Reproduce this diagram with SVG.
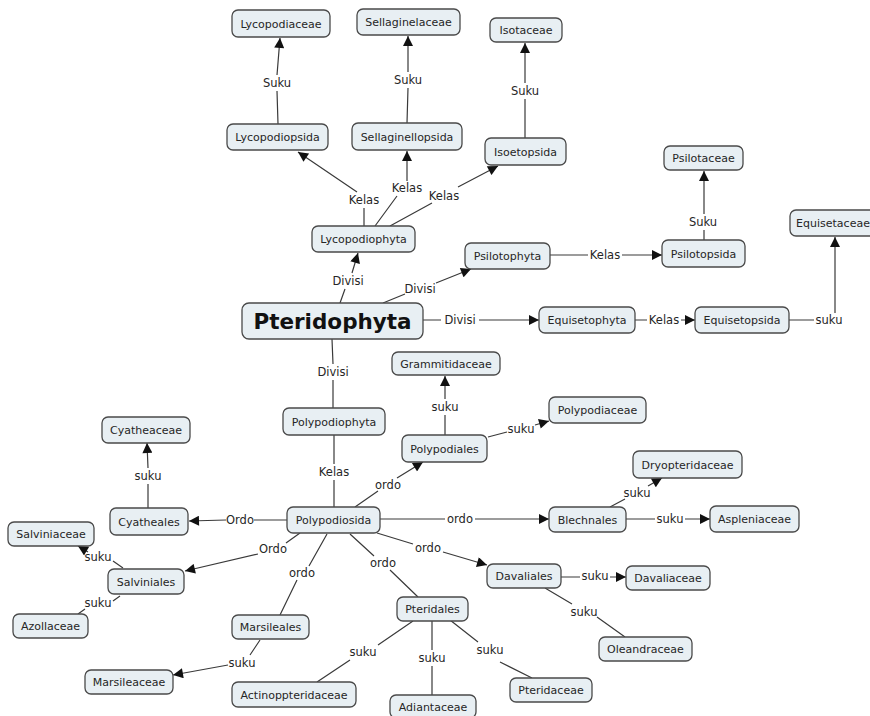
<svg xmlns="http://www.w3.org/2000/svg" width="870" height="716" viewBox="0 0 870 716">
<style>
.n rect{fill:#e8eff3;stroke:#4a4a4a;stroke-width:1.3}
.n text{font-family:"DejaVu Sans",Verdana,sans-serif;font-size:11px;fill:#262626;text-anchor:middle}
#Pteridophyta text{font-size:21.5px;font-weight:bold;fill:#111}
#connectors path{fill:none;stroke:#3a3a3a;stroke-width:1.2}
#connectors path.a{marker-end:url(#ar)}
#connectors text{font-family:"DejaVu Sans",Verdana,sans-serif;font-size:11.5px;fill:#262626;text-anchor:middle}
</style>
<defs>
<marker id="ar" viewBox="0 0 10 10" refX="10" refY="5" markerWidth="12" markerHeight="10" orient="auto" markerUnits="userSpaceOnUse"><path d="M0,0 L10,5 L0,10 z" fill="#111"/></marker>
</defs>
<rect width="870" height="716" fill="#fff"/>
<g id="connectors">
<path class="a" d="M364,226 L364,208 M357,192 L298,152"/>
<path class="a" d="M375,226 L397,196 M407,181 L407,151"/>
<path class="a" d="M390,226 L432,203 M458,187 L498,166"/>
<path class="a" d="M278,124 L277,91 M277,75 L280,38"/>
<path class="a" d="M407,123 L408,88 M408,72 L408,36"/>
<path class="a" d="M525,138 L525,99 M525,83 L525,43"/>
<path class="a" d="M340,303 L345,289 M352,273 L358,253"/>
<path class="a" d="M383,303 L405,294 M436,283 L471,269"/>
<path class="a" d="M423,320 L441,320 M479,320 L539,320"/>
<path class="a" d="M635,320 L647,320 M681,320 L695,320"/>
<path class="a" d="M789,320 L814,320 M835,313 L835,237"/>
<path class="a" d="M550,255 L588,255 M622,255 L662,255"/>
<path class="a" d="M704,240 L704,230 M704,214 L704,171"/>
<path d="M332,339 L333,364 M333,380 L333,408"/>
<path d="M334,435 L334,464 M334,480 L334,507"/>
<path class="a" d="M355,507 L378,491 M397,478 L423,462"/>
<path class="a" d="M445,435 L445,415 M445,399 L445,376"/>
<path class="a" d="M488,437 L507,432 M535,425 L549,421"/>
<path class="a" d="M380,519 L445,519 M475,519 L549,519"/>
<path class="a" d="M610,507 L625,499 M648,486 L662,478"/>
<path class="a" d="M626,519 L655,519 M685,519 L710,519"/>
<path class="a" d="M377,533 L413,544 M443,552 L487,565"/>
<path d="M350,534 L374,556 M390,570 L418,597"/>
<path d="M327,534 L309,566 M297,580 L280,615"/>
<path class="a" d="M287,520 L254,520 M226,520 L189,521"/>
<path class="a" d="M300,533 L286,543 M258,554 L185,571"/>
<path class="a" d="M148,508 L148,484 M148,468 L147,443"/>
<path class="a" d="M123,568 L113,561 M88,552 L78,546"/>
<path d="M120,596 L113,601 M85,609 L78,614"/>
<path class="a" d="M260,640 L250,655 M228,665 L173,675"/>
<path d="M413,621 L378,645 M350,660 L317,682"/>
<path d="M432,621 L432,650 M432,666 L432,696"/>
<path d="M450,620 L478,642 M500,662 L532,678"/>
<path class="a" d="M561,577 L580,577 M610,577 L626,577"/>
<path d="M545,588 L572,604 M597,617 L625,637"/>
<text x="364" y="204">Kelas</text>
<text x="407" y="192">Kelas</text>
<text x="444" y="200">Kelas</text>
<text x="277" y="87">Suku</text>
<text x="408" y="84">Suku</text>
<text x="525" y="95">Suku</text>
<text x="348" y="285">Divisi</text>
<text x="420" y="293">Divisi</text>
<text x="460" y="324">Divisi</text>
<text x="333" y="376">Divisi</text>
<text x="605" y="259">Kelas</text>
<text x="703" y="226">Suku</text>
<text x="664" y="324">Kelas</text>
<text x="829" y="324">suku</text>
<text x="334" y="476">Kelas</text>
<text x="388" y="489">ordo</text>
<text x="445" y="411">suku</text>
<text x="521" y="433">suku</text>
<text x="460" y="523">ordo</text>
<text x="637" y="497">suku</text>
<text x="670" y="523">suku</text>
<text x="428" y="552">ordo</text>
<text x="383" y="567">ordo</text>
<text x="302" y="577">ordo</text>
<text x="240" y="524">Ordo</text>
<text x="273" y="553">Ordo</text>
<text x="148" y="480">suku</text>
<text x="98" y="561">suku</text>
<text x="98" y="607">suku</text>
<text x="242" y="667">suku</text>
<text x="363" y="656">suku</text>
<text x="432" y="662">suku</text>
<text x="490" y="654">suku</text>
<text x="595" y="580">suku</text>
<text x="584" y="616">suku</text>
</g>
<g id="Lycopodiaceae" class="n"><rect x="232" y="10" width="98" height="27" rx="6"/><text x="281" y="27.5">Lycopodiaceae</text></g>
<g id="Sellaginelaceae" class="n"><rect x="357" y="9" width="103" height="26" rx="6"/><text x="408.5" y="26">Sellaginelaceae</text></g>
<g id="Isotaceae" class="n"><rect x="490" y="18" width="72" height="24" rx="6"/><text x="526" y="34">Isotaceae</text></g>
<g id="Lycopodiopsida" class="n"><rect x="227" y="124" width="101" height="26" rx="6"/><text x="277.5" y="141">Lycopodiopsida</text></g>
<g id="Sellaginellopsida" class="n"><rect x="352" y="123" width="110" height="27" rx="6"/><text x="407" y="140.5">Sellaginellopsida</text></g>
<g id="Isoetopsida" class="n"><rect x="485" y="138" width="81" height="27" rx="6"/><text x="525.5" y="155.5">Isoetopsida</text></g>
<g id="Lycopodiophyta" class="n"><rect x="312" y="226" width="103" height="26" rx="6"/><text x="363.5" y="243">Lycopodiophyta</text></g>
<g id="Psilotophyta" class="n"><rect x="465" y="243" width="85" height="26" rx="6"/><text x="507.5" y="260">Psilotophyta</text></g>
<g id="Pteridophyta" class="n"><rect x="242" y="303" width="181" height="36" rx="7"/><text x="332.5" y="328.5">Pteridophyta</text></g>
<g id="Psilotaceae" class="n"><rect x="664" y="146" width="79" height="24" rx="6"/><text x="703.5" y="162">Psilotaceae</text></g>
<g id="Psilotopsida" class="n"><rect x="662" y="240" width="83" height="27" rx="6"/><text x="703.5" y="257.5">Psilotopsida</text></g>
<g id="Equisetaceae" class="n"><rect x="790" y="210" width="86" height="26" rx="6"/><text x="833" y="227">Equisetaceae</text></g>
<g id="Equisetophyta" class="n"><rect x="539" y="307" width="96" height="26" rx="6"/><text x="587" y="324">Equisetophyta</text></g>
<g id="Equisetopsida" class="n"><rect x="695" y="307" width="94" height="26" rx="6"/><text x="742" y="324">Equisetopsida</text></g>
<g id="Grammitidaceae" class="n"><rect x="392" y="352" width="108" height="23" rx="6"/><text x="446" y="367.5">Grammitidaceae</text></g>
<g id="Polypodiophyta" class="n"><rect x="283" y="408" width="102" height="27" rx="6"/><text x="334" y="425.5">Polypodiophyta</text></g>
<g id="Polypodiales" class="n"><rect x="402" y="435" width="85" height="27" rx="6"/><text x="444.5" y="452.5">Polypodiales</text></g>
<g id="Polypodiaceae" class="n"><rect x="549" y="397" width="97" height="26" rx="6"/><text x="597.5" y="414">Polypodiaceae</text></g>
<g id="Dryopteridaceae" class="n"><rect x="633" y="451" width="109" height="27" rx="6"/><text x="687.5" y="468.5">Dryopteridaceae</text></g>
<g id="Blechnales" class="n"><rect x="549" y="507" width="77" height="25" rx="6"/><text x="587.5" y="523.5">Blechnales</text></g>
<g id="Aspleniaceae" class="n"><rect x="710" y="506" width="89" height="26" rx="6"/><text x="754.5" y="523">Aspleniaceae</text></g>
<g id="Davaliales" class="n"><rect x="487" y="564" width="74" height="24" rx="6"/><text x="524" y="580">Davaliales</text></g>
<g id="Davaliaceae" class="n"><rect x="626" y="566" width="84" height="24" rx="6"/><text x="668" y="582">Davaliaceae</text></g>
<g id="Oleandraceae" class="n"><rect x="599" y="637" width="93" height="24" rx="6"/><text x="645.5" y="653">Oleandraceae</text></g>
<g id="Polypodiosida" class="n"><rect x="287" y="507" width="93" height="26" rx="6"/><text x="333.5" y="524">Polypodiosida</text></g>
<g id="Pteridales" class="n"><rect x="397" y="597" width="71" height="24" rx="6"/><text x="432.5" y="613">Pteridales</text></g>
<g id="Pteridaceae" class="n"><rect x="510" y="678" width="82" height="24" rx="6"/><text x="551" y="694">Pteridaceae</text></g>
<g id="Adiantaceae" class="n"><rect x="390" y="695" width="86" height="23" rx="6"/><text x="433" y="711">Adiantaceae</text></g>
<g id="Actinoppteridaceae" class="n"><rect x="232" y="682" width="124" height="25" rx="6"/><text x="294" y="698.5">Actinoppteridaceae</text></g>
<g id="Marsileaceae" class="n"><rect x="85" y="670" width="88" height="24" rx="6"/><text x="129" y="686">Marsileaceae</text></g>
<g id="Marsileales" class="n"><rect x="232" y="615" width="77" height="24" rx="6"/><text x="270.5" y="631">Marsileales</text></g>
<g id="Cyatheaceae" class="n"><rect x="102" y="417" width="88" height="26" rx="6"/><text x="146" y="434">Cyatheaceae</text></g>
<g id="Cyatheales" class="n"><rect x="110" y="508" width="78" height="27" rx="6"/><text x="149" y="525.5">Cyatheales</text></g>
<g id="Salviniaceae" class="n"><rect x="8" y="522" width="86" height="24" rx="6"/><text x="51" y="538">Salviniaceae</text></g>
<g id="Salviniales" class="n"><rect x="108" y="569" width="76" height="25" rx="6"/><text x="146" y="585.5">Salviniales</text></g>
<g id="Azollaceae" class="n"><rect x="13" y="614" width="75" height="24" rx="6"/><text x="50.5" y="630">Azollaceae</text></g>
</svg>
